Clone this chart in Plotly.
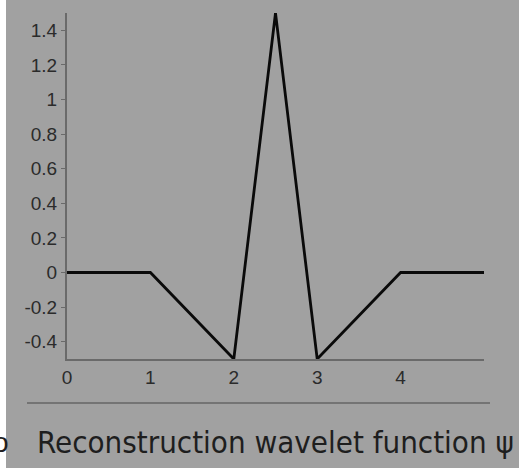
import plotly.graph_objects as go

# data
x_vals = [0, 1, 2, 2.5, 3, 4, 5]
psi_vals = [0, 0, -0.5, 1.5, -0.5, 0, 0]
x_ticks = [0, 1, 2, 3, 4]
x_ticktext = ["0", "1", "2", "3", "4"]
y_ticks = [1.4, 1.2, 1.0, 0.8, 0.6, 0.4, 0.2, 0, -0.2, -0.4]
y_ticktext = ["1.4", "1.2", "1", "0.8", "0.6", "0.4", "0.2", "0", "-0.2", "-0.4"]
caption = "Reconstruction wavelet function \u03c8"

W, H = 519, 470
L, R, T, B = 67, 35, 13, 111
pw, ph = W - L - R, H - T - B

def px(x):
    return (x - L) / pw

def py(y):
    return (H - B - y) / ph

BG = "#a1a1a1"
AX = "#6a6a6a"

fig = go.Figure()
fig.add_trace(go.Scatter(x=x_vals, y=psi_vals, mode="lines",
                         line=dict(color="#0a0a0a", width=2.8),
                         hoverinfo="skip", showlegend=False))

fig.update_layout(
    width=W, height=H,
    margin=dict(l=L, r=R, t=T, b=B, pad=0),
    paper_bgcolor=BG, plot_bgcolor=BG,
    font=dict(family="Liberation Sans, Arial, sans-serif", size=19, color="#2b2b2b"),
    xaxis=dict(range=[0, 5], tickvals=x_ticks, ticktext=x_ticktext,
               showgrid=False, zeroline=False, showline=True, linecolor=AX, linewidth=2,
               ticks="", ticklabelstandoff=0, fixedrange=True),
    yaxis=dict(range=[-0.5, 1.5], tickvals=y_ticks, ticktext=y_ticktext,
               showgrid=False, zeroline=False, showline=True, linecolor=AX, linewidth=2,
               ticks="outside", ticklen=4, tickcolor=AX, tickwidth=1,
               ticklabelstandoff=0, fixedrange=True),
    shapes=[
        dict(type="line", xref="paper", yref="paper",
             x0=px(27), x1=px(490), y0=py(403), y1=py(403),
             line=dict(color="#747474", width=2)),
        dict(type="rect", xref="paper", yref="paper",
             x0=px(-2), x1=px(6), y0=py(H + 2), y1=py(-2),
             fillcolor="white", line=dict(width=0), layer="above"),
        dict(type="rect", xref="paper", yref="paper",
             x0=px(-2), x1=px(W + 2), y0=py(H + 2), y1=py(468),
             fillcolor="white", line=dict(width=0), layer="above"),
    ],
    annotations=[
        dict(text=caption, xref="paper", yref="paper", x=px(35), y=py(442),
             xanchor="left", yanchor="middle", showarrow=False,
             font=dict(family="DejaVu Sans Condensed, DejaVu Sans, sans-serif",
                       size=31, color="#1e1e1e")),
        dict(text="o", xref="paper", yref="paper", x=px(11), y=py(442),
             xanchor="right", yanchor="middle", showarrow=False,
             font=dict(family="Liberation Sans, sans-serif", size=28, color="#1e1e1e")),
    ],
)

fig.write_html("out.html", config={"displayModeBar": False},
               post_script="document.body.style.margin='0';document.body.style.overflow='hidden';")
